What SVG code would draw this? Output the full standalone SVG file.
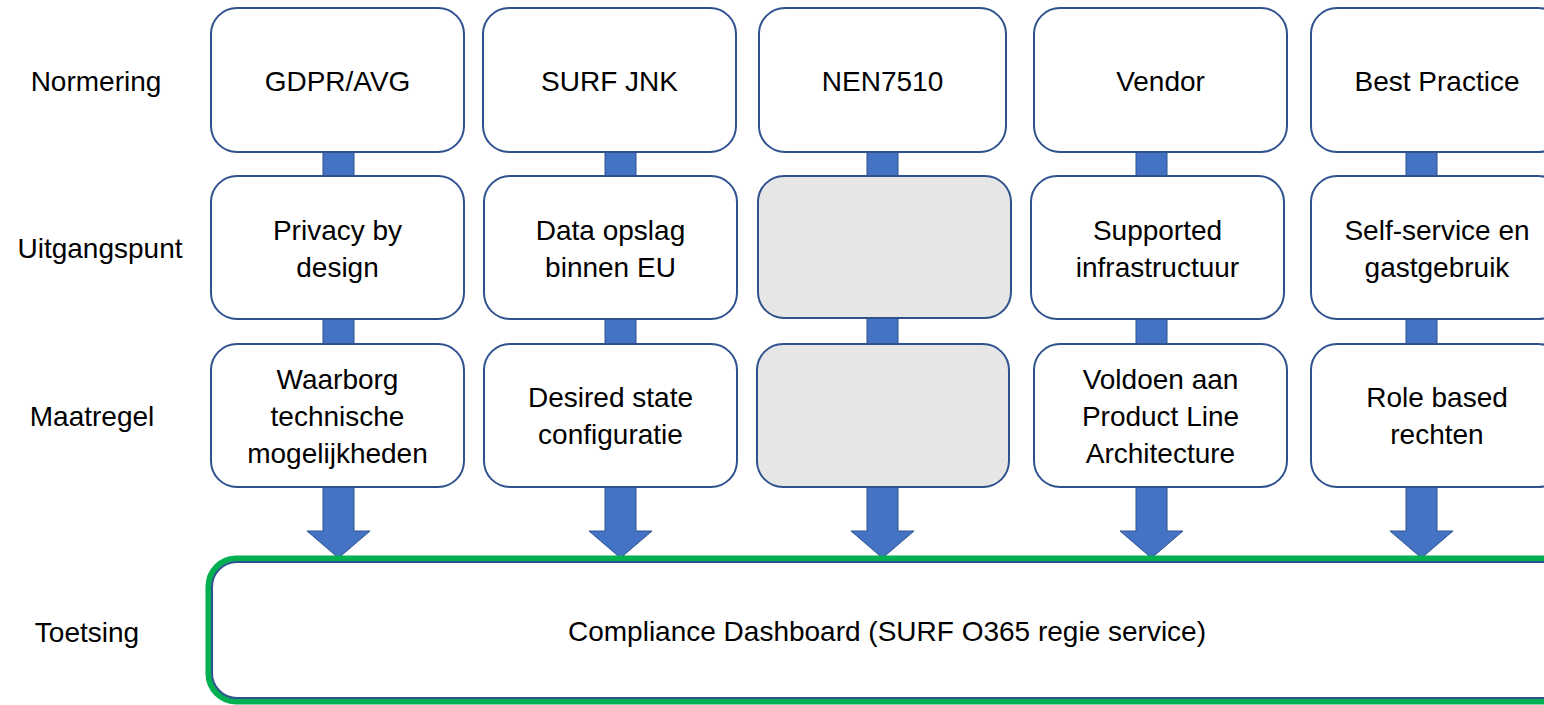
<svg xmlns="http://www.w3.org/2000/svg" width="1544" height="705" viewBox="0 0 1544 705">
<style>
.box{fill:#ffffff;stroke:#2F528F;stroke-width:2}
.grey{fill:#E6E6E6;stroke:#2F528F;stroke-width:2}
.bar{fill:#4472C4;stroke:#2F528F;stroke-width:1}
.t{font-family:"Liberation Sans",Arial,sans-serif;font-size:28px;fill:#000;text-anchor:middle}
</style>
<rect width="1544" height="705" fill="#ffffff"/>
<g id="connectors">
<rect class="bar" x="323" y="150" width="31" height="28"/>
<rect class="bar" x="323" y="317" width="31" height="28"/>
<rect class="bar" x="605" y="150" width="31" height="28"/>
<rect class="bar" x="605" y="317" width="31" height="28"/>
<rect class="bar" x="867" y="150" width="31" height="28"/>
<rect class="bar" x="867" y="317" width="31" height="28"/>
<rect class="bar" x="1136" y="150" width="31" height="28"/>
<rect class="bar" x="1136" y="317" width="31" height="28"/>
<rect class="bar" x="1406" y="150" width="31" height="28"/>
<rect class="bar" x="1406" y="317" width="31" height="28"/>
<path class="bar" d="M323,487 H354 V531 H370 L338.5,558 L307,531 H323 Z"/>
<path class="bar" d="M605,487 H636 V531 H652 L620.5,558 L589,531 H605 Z"/>
<path class="bar" d="M867,487 H898 V531 H914 L882.5,558 L851,531 H867 Z"/>
<path class="bar" d="M1136,487 H1167 V531 H1183 L1151.5,558 L1120,531 H1136 Z"/>
<path class="bar" d="M1406,487 H1437 V531 H1453 L1421.5,558 L1390,531 H1406 Z"/>
</g>
<g id="labels">
<text class="t" x="96" y="91">Normering</text>
<text class="t" x="100" y="258">Uitgangspunt</text>
<text class="t" x="92" y="426">Maatregel</text>
<text class="t" x="87" y="642">Toetsing</text>
</g>
<g id="n-gdpr"><rect class="box" x="211" y="8" width="253" height="144" rx="26"/><text class="t" x="337.5" y="91">GDPR/AVG</text></g>
<g id="n-surf"><rect class="box" x="483" y="8" width="253" height="144" rx="26"/><text class="t" x="609.5" y="91">SURF JNK</text></g>
<g id="n-nen"><rect class="box" x="759" y="8" width="247" height="144" rx="26"/><text class="t" x="882.5" y="91">NEN7510</text></g>
<g id="n-vendor"><rect class="box" x="1034" y="8" width="253" height="144" rx="26"/><text class="t" x="1160.5" y="91">Vendor</text></g>
<g id="n-best"><rect class="box" x="1311" y="8" width="253" height="144" rx="26"/><text class="t" x="1437" y="91">Best Practice</text></g>
<g id="u-privacy"><rect class="box" x="211" y="176" width="253" height="143" rx="26"/><text class="t" x="337.5" y="240">Privacy by</text><text class="t" x="337.5" y="277">design</text></g>
<g id="u-data"><rect class="box" x="484" y="176" width="253" height="143" rx="26"/><text class="t" x="610.5" y="240">Data opslag</text><text class="t" x="610.5" y="277">binnen EU</text></g>
<g id="u-empty"><rect class="grey" x="758" y="176" width="253" height="142" rx="26"/></g>
<g id="u-supported"><rect class="box" x="1031" y="176" width="253" height="143" rx="26"/><text class="t" x="1157.5" y="240">Supported</text><text class="t" x="1157.5" y="277">infrastructuur</text></g>
<g id="u-self"><rect class="box" x="1311" y="176" width="253" height="143" rx="26"/><text class="t" x="1437" y="240">Self-service en</text><text class="t" x="1437" y="277">gastgebruik</text></g>
<g id="m-waarborg"><rect class="box" x="211" y="344" width="253" height="143" rx="26"/><text class="t" x="337.5" y="389">Waarborg</text><text class="t" x="337.5" y="426">technische</text><text class="t" x="337.5" y="463">mogelijkheden</text></g>
<g id="m-desired"><rect class="box" x="484" y="344" width="253" height="143" rx="26"/><text class="t" x="610.5" y="407">Desired state</text><text class="t" x="610.5" y="444">configuratie</text></g>
<g id="m-empty"><rect class="grey" x="757" y="344" width="252" height="143" rx="26"/></g>
<g id="m-pla"><rect class="box" x="1034" y="344" width="253" height="143" rx="26"/><text class="t" x="1160.5" y="389">Voldoen aan</text><text class="t" x="1160.5" y="426">Product Line</text><text class="t" x="1160.5" y="463">Architecture</text></g>
<g id="m-role"><rect class="box" x="1311" y="344" width="253" height="143" rx="26"/><text class="t" x="1437" y="407">Role based</text><text class="t" x="1437" y="444">rechten</text></g>
<g id="toetsing">
<rect x="208.5" y="558.5" width="1400" height="143" rx="28" fill="none" stroke="#00B050" stroke-width="6"/>
<rect class="box" x="212" y="562" width="1400" height="136" rx="25"/>
<text class="t" x="887" y="641">Compliance Dashboard (SURF O365 regie service)</text>
</g>
</svg>
